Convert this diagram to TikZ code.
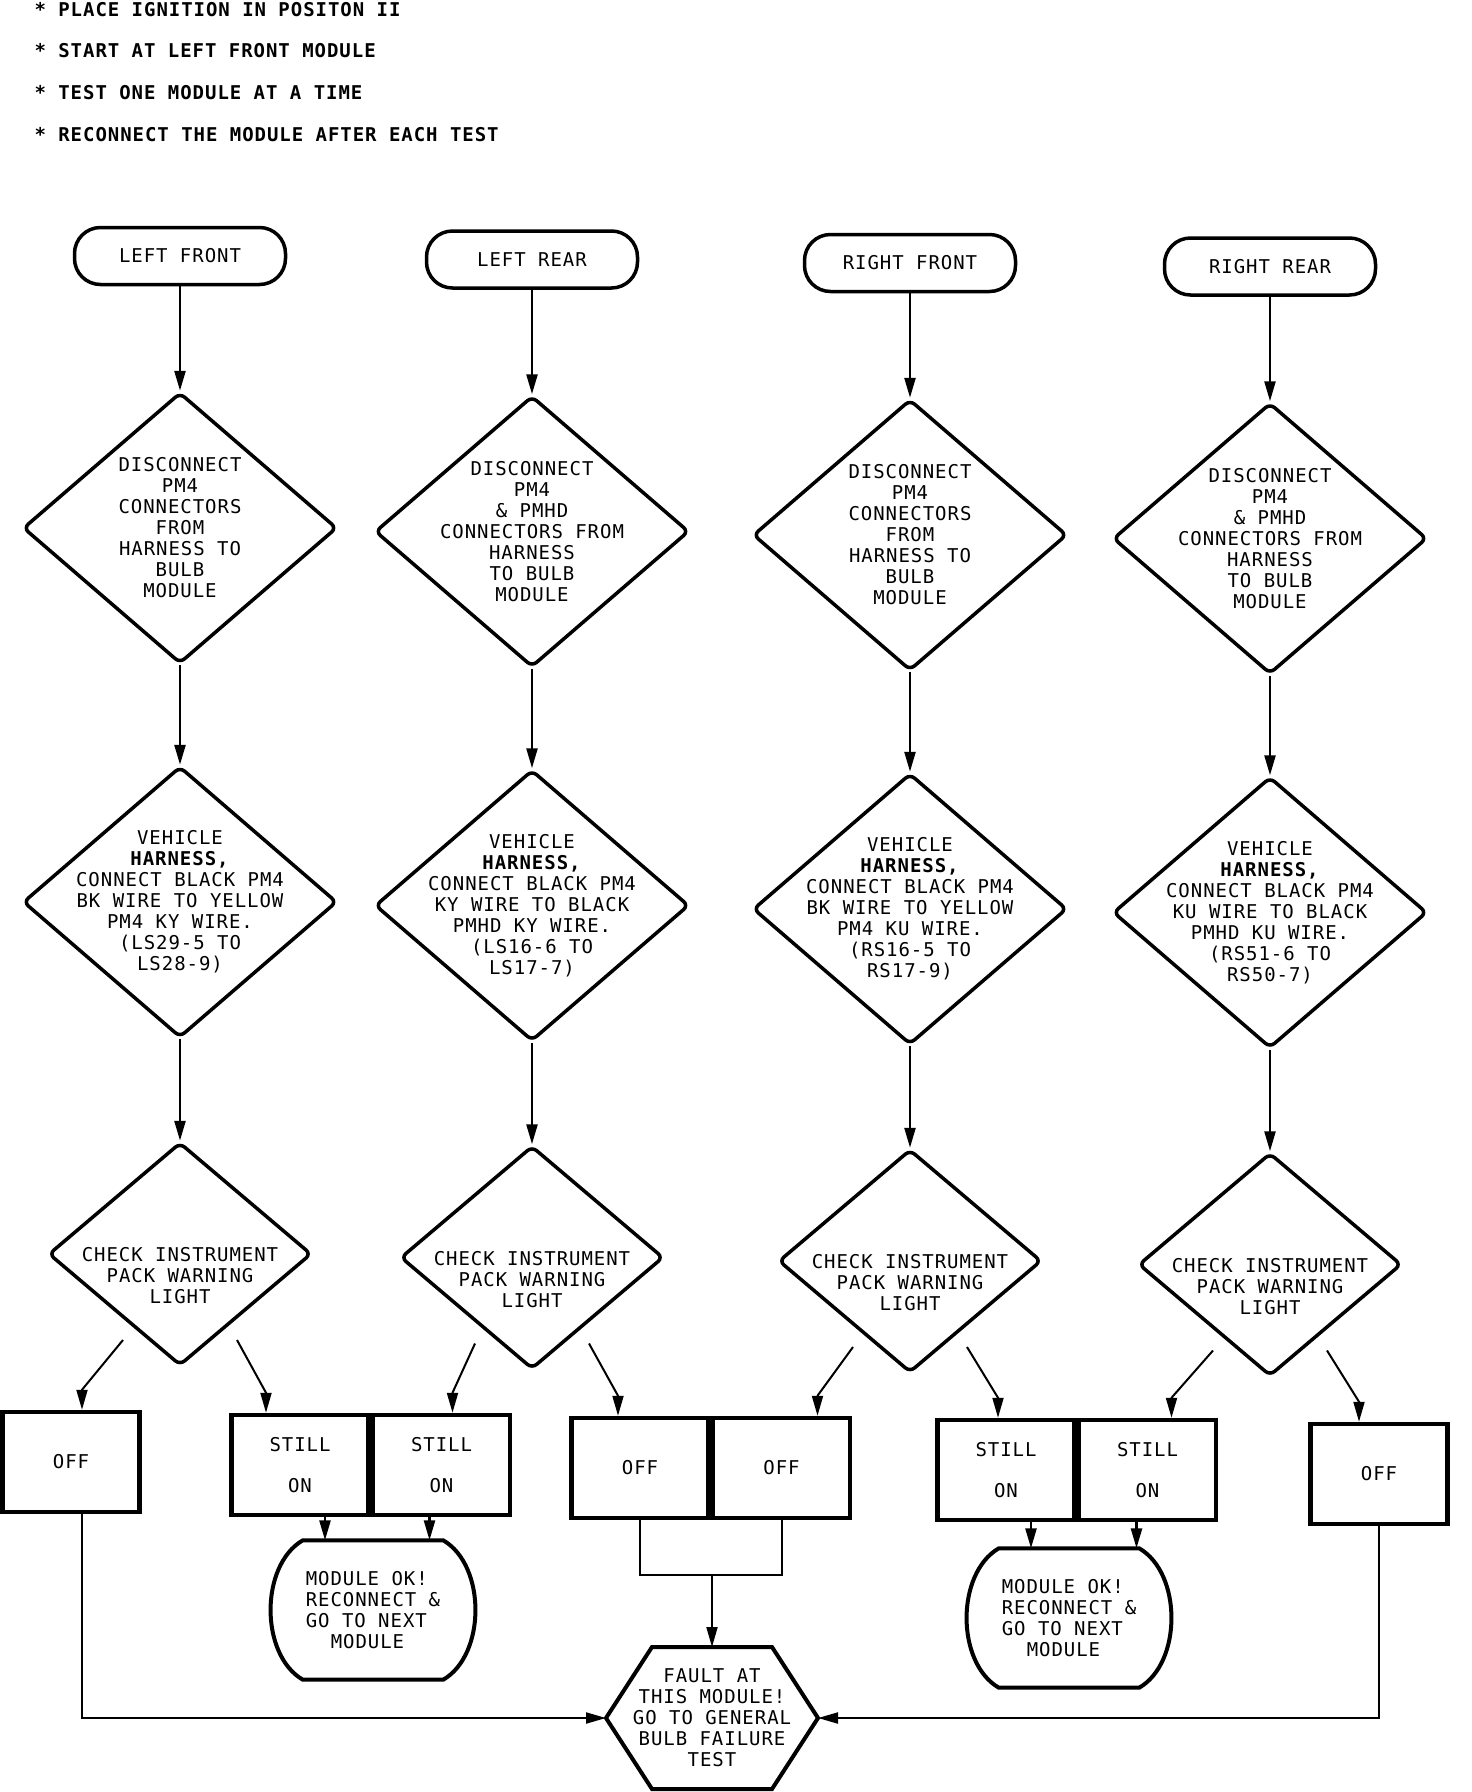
\documentclass[tikz,border=0pt]{standalone}
\usepackage{fontspec}
\newfontfamily\plotfont[LetterSpace=5]{DejaVu Sans Mono}
\usetikzlibrary{arrows.meta, positioning, shapes.geometric}

\begin{document}
\begin{tikzpicture}[x=1pt, y=-1pt, font=\plotfont\fontsize{19}{21}\selectfont,
    terminal/.style={draw, line width=3.5pt, rounded corners=26pt,
      minimum width=211pt, minimum height=57pt},
    decision/.style={diamond, draw, line width=3.5pt, aspect=1.16,
      minimum width=314pt, minimum height=271pt, inner sep=-25pt,
      rounded corners=6pt, align=center},
    check/.style={decision, aspect=1.18, minimum width=263pt, minimum height=223pt},
    result/.style={draw, line width=4.5pt, minimum width=137pt,
      minimum height=100pt, inner sep=0pt, align=center},
    okbox/.style={minimum width=140pt, minimum height=139pt, inner sep=0pt, align=left},
    line/.style={line width=2.5pt},
    arr/.style={line, -{Triangle[length=20pt, width=11pt]}},
    note/.style={anchor=base west, font=\plotfont\bfseries\fontsize{19}{21}\selectfont}]
  \useasboundingbox (0,0) rectangle (1472,1792);
  % --- notes at the top ---
  \foreach \i/\txt in {1/PLACE IGNITION IN POSITON II,
      2/START AT LEFT FRONT MODULE,
      3/TEST ONE MODULE AT A TIME,
      4/RECONNECT THE MODULE AFTER EACH TEST}
    \node[note] (note\i) at (31,{16+41.7*(\i-1)}) {* \txt};
  % --- the four module columns ---
  \foreach \c/\x/\name/\disc/\veh in {
      1/180/LEFT FRONT/{DISCONNECT\\PM4\\CONNECTORS\\FROM\\HARNESS TO\\BULB\\MODULE}/{VEHICLE\\\textbf{HARNESS,}\\CONNECT BLACK PM4\\BK WIRE TO YELLOW\\PM4 KY WIRE.\\(LS29-5 TO\\LS28-9)},
      2/532/LEFT REAR/{DISCONNECT\\PM4\\\& PMHD\\CONNECTORS FROM\\HARNESS\\TO BULB\\MODULE}/{VEHICLE\\\textbf{HARNESS,}\\CONNECT BLACK PM4\\KY WIRE TO BLACK\\PMHD KY WIRE.\\(LS16-6 TO\\LS17-7)},
      3/910/RIGHT FRONT/{DISCONNECT\\PM4\\CONNECTORS\\FROM\\HARNESS TO\\BULB\\MODULE}/{VEHICLE\\\textbf{HARNESS,}\\CONNECT BLACK PM4\\BK WIRE TO YELLOW\\PM4 KU WIRE.\\(RS16-5 TO\\RS17-9)},
      4/1270/RIGHT REAR/{DISCONNECT\\PM4\\\& PMHD\\CONNECTORS FROM\\HARNESS\\TO BULB\\MODULE}/{VEHICLE\\\textbf{HARNESS,}\\CONNECT BLACK PM4\\KU WIRE TO BLACK\\PMHD KU WIRE.\\(RS51-6 TO\\RS50-7)}}
    {\node[terminal] (start\c) at (\x,{256+3.5*(\c-1)}) {\name};
     \node[decision] (disc\c) at (\x,{528+3.5*(\c-1)}) {\disc};
     \node[decision] (veh\c) at (\x,{902+3.5*(\c-1)}) {\veh};
     \node[check] (check\c) at (\x,{1254+3.5*(\c-1)})
       {\rule{0pt}{58pt}CHECK INSTRUMENT\\PACK WARNING\\LIGHT};
     \draw[arr] (start\c) -- (disc\c);
     \draw[arr] (disc\c) -- (veh\c);
     \draw[arr] (veh\c) -- (check\c);}
  % --- result boxes ---
  \node[result] (off1) at (71,1462) {OFF};
  \node[result] (stillA) at (300,1465) {STILL\\[20pt]ON};
  \node[result, right=0pt of stillA] (stillB) {STILL\\[20pt]ON};
  \node[result] (offC) at (640,1468) {OFF};
  \node[result, right=0pt of offC] (offD) {OFF};
  \node[result] (stillE) at (1006,1470) {STILL\\[20pt]ON};
  \node[result, right=0pt of stillE] (stillF) {STILL\\[20pt]ON};
  \node[result] (off4) at (1379,1474) {OFF};
  \foreach \c/\dx/\bx/\ox in {1/-57/off1/11, 1/57/stillA/-34, 2/-57/stillB/11,
      2/57/offC/-22, 3/-57/offD/36, 3/57/stillE/-8, 4/-57/stillF/24, 4/57/off4/-20}
    \draw[arr, line width=2pt] ([shift={(\dx,86)}]check\c.center)
      -- ([shift={(\ox,-20)}]\bx.north) -- ([shift={(\ox,0)}]\bx.north);
  % --- module ok ---
  \node[okbox] (ok1) at (373,1610) {MODULE OK!\\RECONNECT \&\\GO TO NEXT\\\hspace*{25pt}MODULE};
  \node[okbox] (ok2) at (1069,1618) {MODULE OK!\\RECONNECT \&\\GO TO NEXT\\\hspace*{25pt}MODULE};
  \foreach \n in {ok1, ok2}
    \draw[line width=4pt] (\n.north west) -- (\n.north east)
      .. controls +(43,25) and +(43,-25) .. (\n.south east)
      -- (\n.south west) .. controls +(-43,-25) and +(-43,25) .. cycle;
  \foreach \bx/\ox/\ok in {stillA/25/ok1, stillB/-12/ok1, stillE/25/ok2, stillF/-11/ok2}
    \draw[arr] ([shift={(\ox,0)}]\bx.south) -- ([shift={(\ox,0)}]\bx.south |- \ok.north);
  % --- fault at this module ---
  \node[align=center, inner sep=0pt] (fault) at (712,1718)
    {FAULT AT\\THIS MODULE!\\GO TO GENERAL\\BULB FAILURE\\TEST};
  \coordinate (faultW) at ([shift={(-106,0)}]fault.center);
  \coordinate (faultE) at ([shift={(106,0)}]fault.center);
  \coordinate (faultN) at ([shift={(0,-71)}]fault.center);
  \draw[line width=4pt] ([shift={(-60,-71)}]fault.center) -- ([shift={(60,-71)}]fault.center)
    -- (faultE) -- ([shift={(60,71)}]fault.center) -- ([shift={(-60,71)}]fault.center)
    -- (faultW) -- cycle;
  \draw[line, line width=2pt] (offC.south) -- ++(0,55) coordinate (join) -| (offD.south);
  \draw[arr, line width=2pt] (join -| faultN) -- (faultN);
  \draw[arr, line width=2pt] ([shift={(11,0)}]off1.south) |- (faultW);
  \draw[arr, line width=2pt] (off4.south) |- (faultE);
\end{tikzpicture}
\end{document}
